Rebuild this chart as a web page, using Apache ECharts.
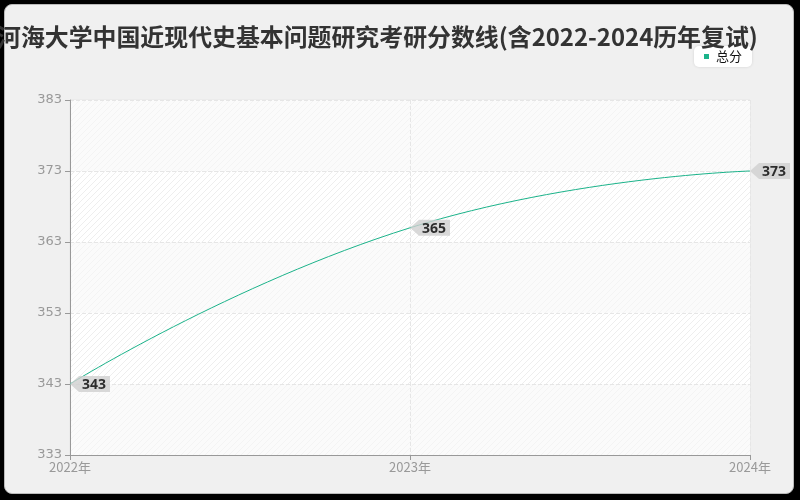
<!DOCTYPE html>
<html><head><meta charset="utf-8">
<script src="https://cdn.jsdelivr.net/npm/echarts@6/dist/echarts.min.js"></script>
<style>
html,body{margin:0;padding:0;background:#000;width:800px;height:500px;overflow:hidden;}
#frame{position:absolute;left:4px;top:4px;width:788px;height:488px;background:#f0f0f0;border:1px solid #bbb;border-radius:8px;}
#c{position:absolute;left:0;top:0;width:800px;height:500px;}
</style></head>
<body><div id="frame"></div><div id="c"></div>
<script>
var titleText = '河海大学中国近现代史基本问题研究考研分数线(含2022-2024历年复试)';
var seriesName = '总分';
var categories = ['2022年', '2023年', '2024年'];
var values = [343, 365, 373];
var yMin = 333, yMax = 383, yStep = 10;

function makePattern(bg, line) {
  var cv = document.createElement('canvas');
  cv.width = 6; cv.height = 6;
  var ctx = cv.getContext('2d');
  ctx.fillStyle = bg; ctx.fillRect(0, 0, 6, 6);
  ctx.strokeStyle = line; ctx.lineWidth = 1;
  ctx.beginPath();
  ctx.moveTo(0, 6); ctx.lineTo(6, 0);
  ctx.moveTo(-3, 3); ctx.lineTo(3, -3);
  ctx.moveTo(3, 9); ctx.lineTo(9, 3);
  ctx.stroke();
  return cv;
}
var faint = {image: makePattern('#fbfbfb', '#f4f4f4'), repeat: 'repeat'};
var strong = {image: makePattern('#ffffff', '#eeeeee'), repeat: 'repeat'};

var tagPath = 'path://M0,8 L9,0 L40,0 L40,16 L9,16 Z';
var green = '#1bb38a';

var chart = echarts.init(document.getElementById('c'));
chart.setOption({
  backgroundColor: 'transparent',
  animation: false,
  title: {
    text: titleText, left: -8, top: 20,
    textStyle: {fontSize: 23.9, fontWeight: 'bold', color: '#333', fontFamily: 'Noto Sans CJK SC'}
  },
  legend: {
    data: [{name: seriesName, icon: 'rect'}], right: 48, top: 46,
    backgroundColor: '#fff', borderRadius: 5, padding: [4, 10],
    itemWidth: 5, itemHeight: 5, itemGap: 4,
    shadowColor: 'rgba(0,0,0,0.12)', shadowBlur: 3,
    textStyle: {fontSize: 13, color: '#111', fontFamily: 'Noto Sans CJK SC', padding: [0, 0, 0, 2]}
  },
  grid: {left: 70, right: 50, top: 100, bottom: 45, show: true, borderColor: '#e6e6e6', borderWidth: 1, backgroundColor: 'transparent'},
  xAxis: {
    type: 'category', data: categories, boundaryGap: false,
    axisLine: {lineStyle: {color: '#999'}},
    axisTick: {show: true, lineStyle: {color: '#999'}},
    axisLabel: {color: '#999', fontSize: 13, margin: 6, fontFamily: 'Noto Sans CJK SC'},
    splitLine: {show: true, lineStyle: {type: 'dashed', color: '#e6e6e6'}}
  },
  yAxis: {
    type: 'value', min: yMin, max: yMax, interval: yStep,
    axisLine: {show: true, lineStyle: {color: '#999'}},
    axisTick: {show: true, lineStyle: {color: '#999'}},
    axisLabel: {color: '#999', fontSize: 13, margin: 8, fontFamily: 'DejaVu Sans'},
    splitLine: {show: true, lineStyle: {type: 'dashed', color: '#e6e6e6'}},
    splitArea: {show: true, areaStyle: {color: [faint, strong]}}
  },
  series: [
    {
      name: seriesName, type: 'line', data: values, smooth: true,
      showSymbol: false, symbol: 'none',
      lineStyle: {color: green, width: 1}, itemStyle: {color: green}
    },
    {
      name: 'tag', type: 'scatter', data: values,
      symbol: tagPath, symbolSize: [40, 16], symbolOffset: [20, 0],
      itemStyle: {color: '#d0d0d0'}, silent: true,
      label: {
        show: true, position: 'inside', offset: [4, 1],
        color: '#000', fontSize: 14, fontWeight: 'bold', fontFamily: 'Noto Sans'
      },
      z: 5
    }
  ]
});
</script></body></html>
